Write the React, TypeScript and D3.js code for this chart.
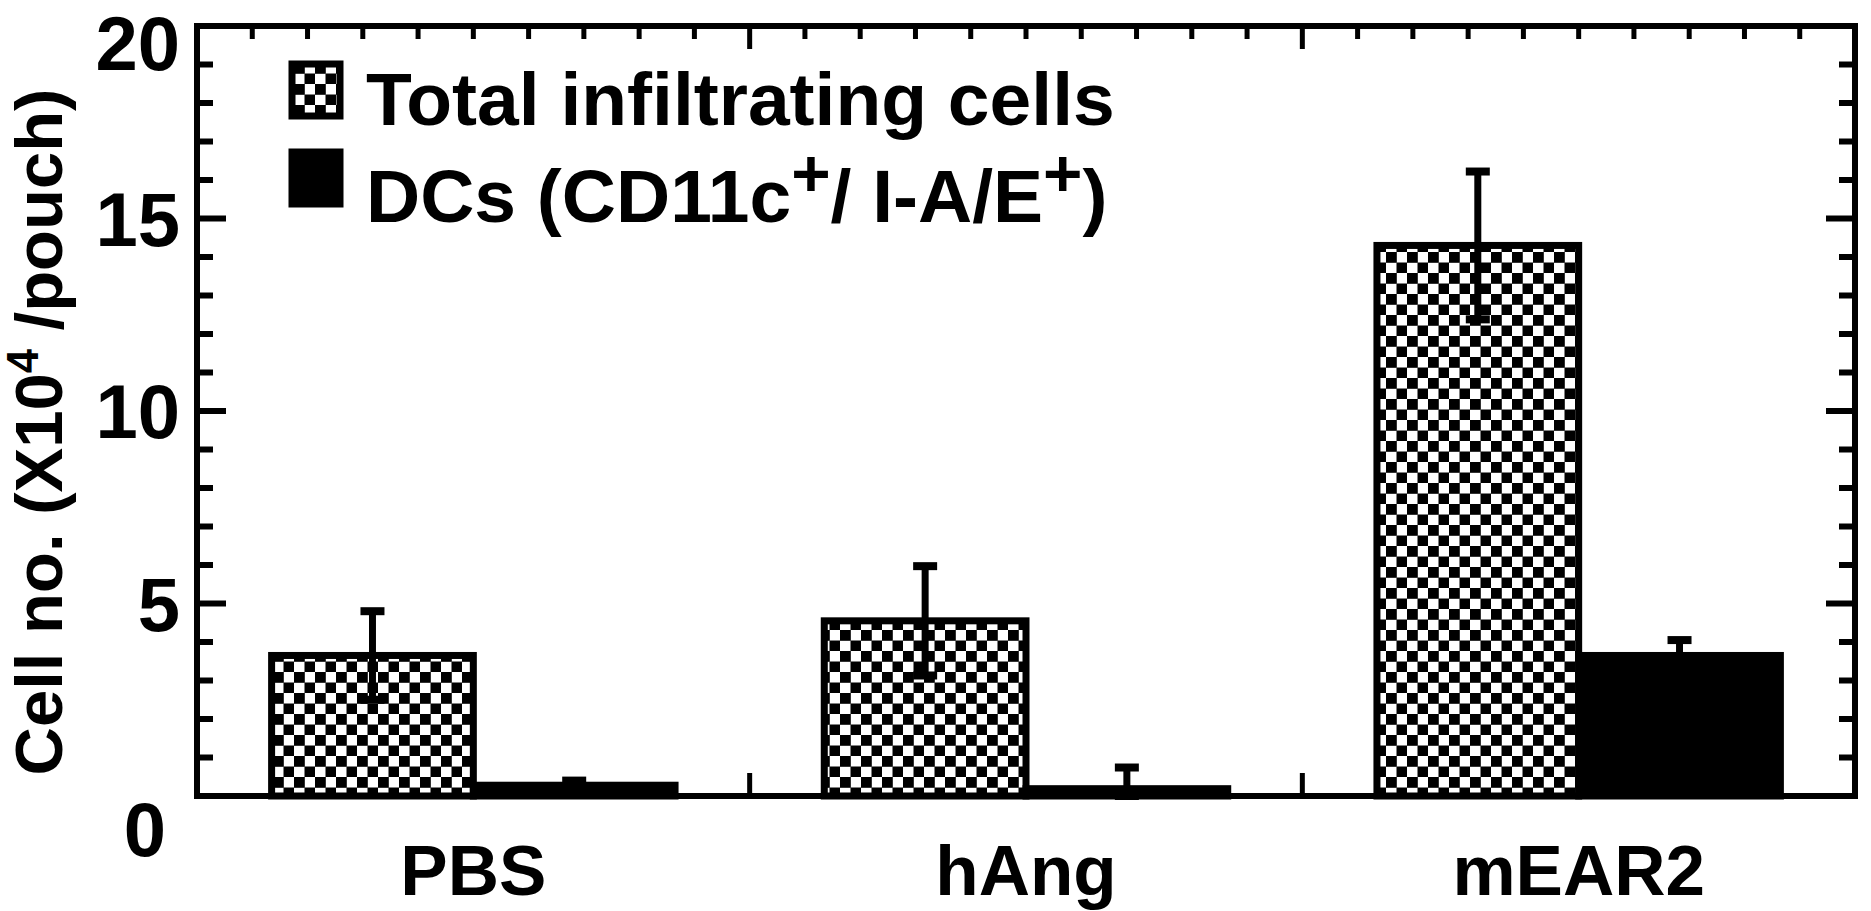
import React, { useRef, useEffect } from "react";
import * as d3 from "d3";

// values (cells x10^4 per pouch)
const categories = ["PBS", "hAng", "mEAR2"];
const totalCells = [3.65, 4.55, 14.3];
const totalErr = [1.15, 1.42, 1.92];
const dcCells = [0.28, 0.19, 3.65];
const dcErr = [0.12, 0.55, 0.4];
const yTicks = [0, 5, 10, 15, 20];

// legend / title pieces: [text, isSuperscript]
const legendTotal: [string, boolean][] = [["Total infiltrating cells", false]];
const legendDC: [string, boolean][] = [
    ["DCs (CD11c", false],
    ["+", true],
    ["/ I-A/E", false],
    ["+", true],
    [")", false],
];
const yTitle: [string, boolean][] = [
    ["Cell no. (X10", false],
    ["4", true],
    [" /pouch)", false],
];

const FONT = "'Liberation Sans', Arial, Helvetica, sans-serif";

type TextSel = d3.Selection<SVGTextElement, unknown, null, undefined>;

export default function App() {
    const ref = useRef<SVGSVGElement | null>(null);

    useEffect(() => {
        const width = 1871;
        const height = 911;
        const left = 197, right = 1855, top = 26, bottom = 796;
        const barW = 0.365; // in group units

        d3.select(ref.current).selectAll("*").remove();

        const svg = d3
            .select(ref.current)
            .attr("width", width)
            .attr("height", height)
            .style("font-family", FONT)
            .style("font-weight", "bold");

        svg.append("rect").attr("width", width).attr("height", height).attr("fill", "#fff");

        const defs = svg.append("defs");
        const pat = defs
            .append("pattern")
            .attr("id", "checks")
            .attr("patternUnits", "userSpaceOnUse")
            .attr("width", 21)
            .attr("height", 21);
        pat.append("rect").attr("width", 21).attr("height", 21).attr("fill", "#fff");
        pat.append("rect").attr("x", 0).attr("y", 0).attr("width", 10.8).attr("height", 10.8).attr("fill", "#000");
        pat.append("rect").attr("x", 10.5).attr("y", 10.5).attr("width", 10.8).attr("height", 10.8).attr("fill", "#000");

        const x = d3.scaleLinear().domain([0, categories.length]).range([left, right]);
        const y = d3.scaleLinear().domain([0, 20]).range([bottom, top]);

        const groups = categories.map((c, i) => ({
            c,
            i,
            total: totalCells[i],
            tErr: totalErr[i],
            dc: dcCells[i],
            dErr: dcErr[i],
        }));

        // bars
        const g = svg.append("g");
        g.selectAll("rect.total")
            .data(groups)
            .enter()
            .append("rect")
            .attr("x", (d) => x(d.i + 0.5 - barW))
            .attr("y", (d) => y(d.total))
            .attr("width", x(barW) - x(0))
            .attr("height", (d) => y(0) - y(d.total))
            .attr("fill", "url(#checks)")
            .attr("stroke", "#000")
            .attr("stroke-width", 7);

        g.selectAll("rect.dc")
            .data(groups)
            .enter()
            .append("rect")
            .attr("x", (d) => x(d.i + 0.5))
            .attr("y", (d) => y(d.dc))
            .attr("width", x(barW) - x(0))
            .attr("height", (d) => y(0) - y(d.dc))
            .attr("fill", "#000")
            .attr("stroke", "#000")
            .attr("stroke-width", 7);

        // error bars
        const errs = groups.flatMap((d) => [
            { cx: x(d.i + 0.5 - barW / 2), m: d.total, e: d.tErr },
            { cx: x(d.i + 0.5 + barW / 2), m: d.dc, e: d.dErr },
        ]);
        const eg = svg.append("g").attr("stroke", "#000");
        errs.forEach((d) => {
            const lo = Math.max(0, d.m - d.e);
            const hi = d.m + d.e;
            eg.append("line")
                .attr("x1", d.cx).attr("x2", d.cx)
                .attr("y1", y(lo)).attr("y2", y(hi))
                .attr("stroke-width", 7);
            [lo, hi].forEach((v) => {
                eg.append("line")
                    .attr("x1", d.cx - 12).attr("x2", d.cx + 12)
                    .attr("y1", y(v)).attr("y2", y(v))
                    .attr("stroke-width", 8);
            });
        });

        // frame
        svg.append("rect")
            .attr("x", left).attr("y", top)
            .attr("width", right - left).attr("height", bottom - top)
            .attr("fill", "none")
            .attr("stroke", "#000")
            .attr("stroke-width", 6);

        // y ticks, inward on both sides
        const tg = svg.append("g").attr("stroke", "#000").attr("stroke-width", 6);
        y.ticks(20).forEach((v) => {
            if (v === 0 || v === 20) return;
            const len = v % 5 === 0 ? 29 : 16;
            tg.append("line").attr("x1", left).attr("x2", left + len).attr("y1", y(v)).attr("y2", y(v));
            tg.append("line").attr("x1", right).attr("x2", right - len).attr("y1", y(v)).attr("y2", y(v));
        });

        // x ticks: minor on top, major on top and bottom
        x.ticks(30).forEach((v) => {
            if (v === 0 || v === categories.length) return;
            const major = Math.abs(v - Math.round(v)) < 1e-6;
            const len = major ? 23 : 13;
            tg.append("line")
                .attr("x1", x(v)).attr("x2", x(v))
                .attr("y1", top).attr("y2", top + len)
                .attr("stroke-width", 5);
            if (major) {
                tg.append("line")
                    .attr("x1", x(v)).attr("x2", x(v))
                    .attr("y1", bottom).attr("y2", bottom - len)
                    .attr("stroke-width", 5);
            }
        });

        // y tick labels (0 sits a little lower and to the left, as in the figure)
        svg.append("g")
            .selectAll("text")
            .data(yTicks)
            .enter()
            .append("text")
            .attr("x", (d) => (d === 0 ? 166 : 180))
            .attr("y", (d) => y(d) + 27 + (d === 0 ? 33 : d === 20 ? 17 : 0))
            .attr("text-anchor", "end")
            .attr("font-size", 76)
            .text((d) => d);

        // category labels
        svg.append("g")
            .selectAll("text")
            .data(groups)
            .enter()
            .append("text")
            .attr("x", (d) => x(d.i + 0.5))
            .attr("y", 895)
            .attr("text-anchor", "middle")
            .attr("font-size", 71)
            .text((d) => d.c);

        const rich = (sel: TextSel, parts: [string, boolean][], supSize: string, supDy: number) => {
            let raised = false;
            parts.forEach(([t, sup]) => {
                const ts = sel.append("tspan").text(t);
                if (sup) {
                    ts.attr("font-size", supSize).attr("dy", supDy);
                    raised = true;
                } else if (raised) {
                    ts.attr("dy", -supDy);
                    raised = false;
                }
            });
        };

        // y axis title
        const yt = svg.append("text")
            .attr("transform", `translate(62,432) rotate(-90)`)
            .attr("text-anchor", "middle")
            .attr("font-size", 67) as unknown as TextSel;
        rich(yt, yTitle, "0.65em", -24);

        // legend
        const lg = svg.append("g");
        lg.append("rect")
            .attr("x", 292).attr("y", 64).attr("width", 48).attr("height", 52)
            .attr("fill", "url(#checks)").attr("stroke", "#000").attr("stroke-width", 7);
        lg.append("rect")
            .attr("x", 292).attr("y", 152).attr("width", 48).attr("height", 52)
            .attr("fill", "#000").attr("stroke", "#000").attr("stroke-width", 7);
        const l1 = lg.append("text").attr("x", 366).attr("y", 125).attr("font-size", 75) as unknown as TextSel;
        rich(l1, legendTotal, "0.9em", -26);
        const l2 = lg.append("text").attr("x", 366).attr("y", 222).attr("font-size", 75) as unknown as TextSel;
        rich(l2, legendDC, "0.9em", -26);
    }, []);

    return (
        <div style={{ position: "absolute", left: 0, top: 0 }}>
            <svg ref={ref}></svg>
        </div>
    );
}
